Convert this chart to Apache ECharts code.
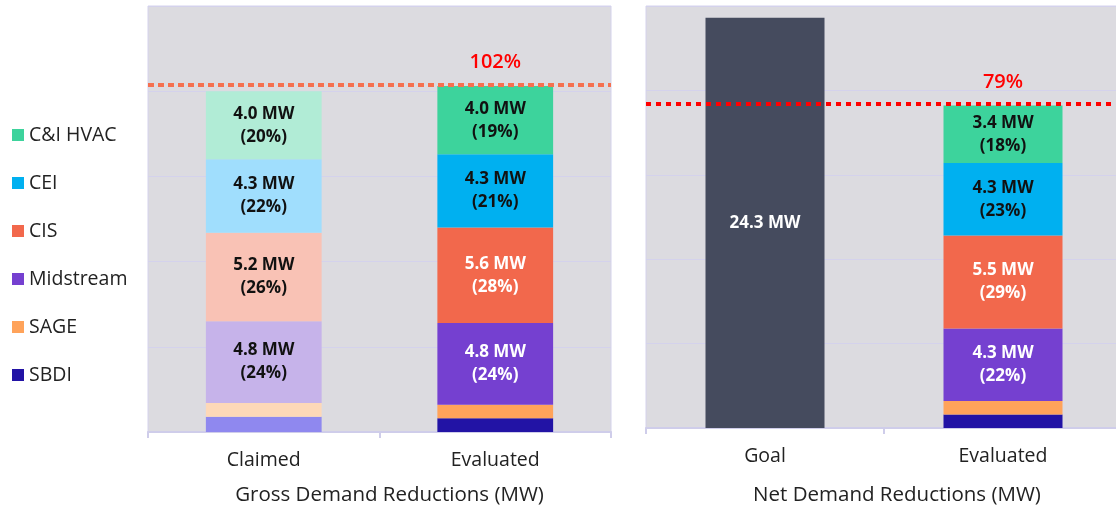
<!doctype html>
<html lang="en">
<head>
<meta charset="utf-8">
<title>Demand Reductions</title>
<script src="https://cdn.jsdelivr.net/npm/echarts@6.0.0/dist/echarts.min.js"></script>
<style>
  html, body { margin: 0; padding: 0; background: #fff; }
  #chart { width: 1116px; height: 510px; }
</style>
</head>
<body>
<div id="chart"></div>
<script>
  // stacking order, bottom to top
  const segments = ['SBDI', 'SAGE', 'Midstream', 'CIS', 'CEI', 'C&I HVAC'];
  const legendOrder = ['C&I HVAC', 'CEI', 'CIS', 'Midstream', 'SAGE', 'SBDI'];

  const grossCategories = ['Claimed', 'Evaluated'];
  const netCategories = ['Goal', 'Evaluated'];

  const grossClaimed = [0.9, 0.8, 4.8, 5.2, 4.3, 4.0];
  const grossClaimedPct = [null, null, 24, 26, 22, 20];
  const grossEvaluated = [0.8, 0.8, 4.8, 5.6, 4.3, 4.0];
  const grossEvaluatedPct = [null, null, 24, 28, 21, 19];

  const netGoal = 24.3;
  const netEvaluated = [0.8, 0.8, 4.3, 5.5, 4.3, 3.4];
  const netEvaluatedPct = [null, null, 22, 29, 23, 18];

  const grossLine = 20.4, grossLineLabel = '102%';
  const netLine = 19.2, netLineLabel = '79%';

  const strong = ['#2213a5', '#ffa35a', '#7540d0', '#f2684c', '#00b0f0', '#3dd39c'];
  const light = ['#8f88ef', '#fdd8b8', '#c6b3ea', '#f9c2b5', '#a0defd', '#b1ecd6'];
  const whiteText = [false, false, true, true, false, false];

  const FONT = 'Open Sans';
  const chart = echarts.init(document.getElementById('chart'));

  function segLabel(v, pct, white) {
    if (pct == null) return { show: false };
    return {
      show: true,
      position: 'inside',
      formatter: v.toFixed(1) + ' MW\n(' + pct + '%)',
      color: white ? '#fff' : '#111',
      fontFamily: FONT,
      fontWeight: 'bold',
      fontSize: 17,
      lineHeight: 23
    };
  }

  const series = [];
  segments.forEach((name, i) => {
    const gross = {
      name: name,
      type: 'bar',
      stack: 'gross',
      xAxisIndex: 0,
      yAxisIndex: 0,
      barWidth: '50%',
      itemStyle: { color: strong[i] },
      data: [
        { value: grossClaimed[i], itemStyle: { color: light[i] }, label: segLabel(grossClaimed[i], grossClaimedPct[i], false) },
        { value: grossEvaluated[i], label: segLabel(grossEvaluated[i], grossEvaluatedPct[i], whiteText[i]) }
      ]
    };
    const net = {
      name: name,
      type: 'bar',
      stack: 'net',
      xAxisIndex: 1,
      yAxisIndex: 1,
      barWidth: '50%',
      itemStyle: { color: strong[i] },
      data: [
        '-',
        { value: netEvaluated[i], label: segLabel(netEvaluated[i], netEvaluatedPct[i], whiteText[i]) }
      ]
    };
    if (i === segments.length - 1) {
      gross.markLine = {
        silent: true, symbol: 'none', label: { show: false },
        lineStyle: { color: '#f5704f', type: [6, 4], width: 4 },
        data: [{ yAxis: grossLine }]
      };
      gross.markPoint = {
        symbol: 'circle', symbolSize: 0,
        label: { show: true, formatter: grossLineLabel, color: '#ff0000', fontFamily: FONT, fontSize: 20, fontWeight: 600, offset: [0, -22] },
        data: [{ coord: [1, grossLine] }]
      };
      net.markLine = {
        silent: true, symbol: 'none', label: { show: false },
        lineStyle: { color: '#ff0000', type: [5, 5], width: 4 },
        data: [{ yAxis: netLine }]
      };
      net.markPoint = {
        symbol: 'circle', symbolSize: 0,
        label: { show: true, formatter: netLineLabel, color: '#ff0000', fontFamily: FONT, fontSize: 20, fontWeight: 600, offset: [0, -22] },
        data: [{ coord: [1, netLine] }]
      };
    }
    series.push(gross, net);
  });

  // goal bar shares the net stack so it sits in its own category column
  series.unshift({
    name: 'Goal',
    type: 'bar',
    stack: 'net',
    xAxisIndex: 1,
    yAxisIndex: 1,
    barWidth: '50%',
    itemStyle: { color: '#454b5e' },
    label: {
      show: true, position: 'inside', formatter: '{c} MW', color: '#fff',
      fontFamily: FONT, fontWeight: 'bold', fontSize: 17
    },
    data: [netGoal, '-']
  });

  const gridStyle = {
    show: true,
    outerBoundsMode: 'none',
    containLabel: false,
    backgroundColor: '#dcdbe0',
    borderColor: '#d4d2ec',
    borderWidth: 1
  };

  function xAxis(idx, cats, title, gap, shift) {
    return {
      type: 'category',
      gridIndex: idx,
      data: cats,
      axisLine: { lineStyle: { color: '#cfcdea', width: 2 } },
      axisTick: { show: true, length: 6, lineStyle: { color: '#cfcdea', width: 2 } },
      axisLabel: { color: '#222', fontFamily: FONT, fontSize: 19.5, margin: 18 },
      name: title,
      nameLocation: 'middle',
      nameGap: gap,
      nameTextStyle: { color: '#222', fontFamily: FONT, fontSize: 20.5, padding: [0, 0, 0, shift] }
    };
  }

  function yAxis(idx) {
    return {
      type: 'value',
      gridIndex: idx,
      min: 0,
      max: 25,
      interval: 5,
      axisLabel: { show: false },
      axisLine: { show: false },
      axisTick: { show: false },
      splitLine: { lineStyle: { color: '#d4d2ec', width: 1 } }
    };
  }

  chart.setOption({
    animation: false,
    legend: {
      data: legendOrder,
      orient: 'vertical',
      left: 7,
      top: 120,
      itemWidth: 12,
      itemHeight: 12,
      itemGap: 28,
      icon: 'rect',
      textStyle: { color: '#222', fontFamily: FONT, fontSize: 19.5, lineHeight: 20 }
    },
    grid: [
      Object.assign({ left: 148, right: 505, top: 6, bottom: 78 }, gridStyle),
      Object.assign({ left: 646, right: -6, top: 6, bottom: 82 }, gridStyle)
    ],
    xAxis: [
      xAxis(0, grossCategories, 'Gross Demand Reductions (MW)', 53, 20),
      xAxis(1, netCategories, 'Net Demand Reductions (MW)', 57, 26)
    ],
    yAxis: [yAxis(0), yAxis(1)],
    series: series
  });
</script>
</body>
</html>
